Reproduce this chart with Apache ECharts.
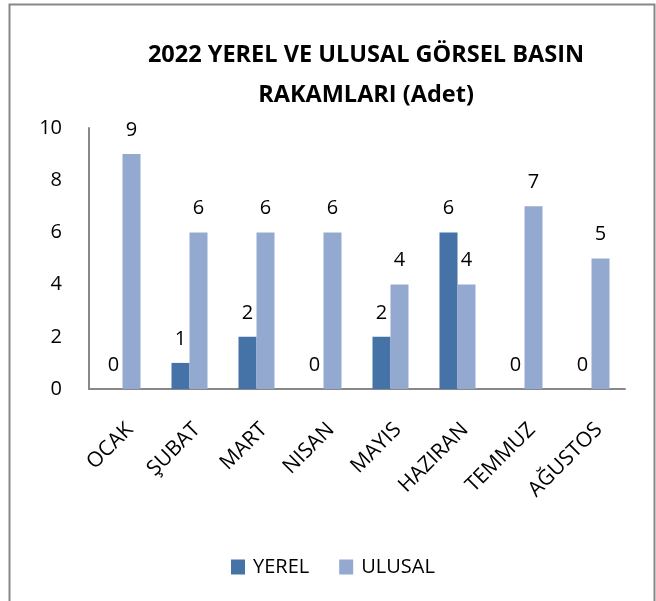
<!DOCTYPE html>
<html>
<head>
<meta charset="utf-8">
<script src="https://cdn.jsdelivr.net/npm/echarts@6/dist/echarts.min.js"></script>
<style>
  html, body { margin: 0; padding: 0; background: #fff; }
  #chart { width: 656px; height: 601px; }
</style>
</head>
<body>
<div id="chart"></div>
<script>
// aylar
var months = ['OCAK', 'ŞUBAT', 'MART', 'NISAN', 'MAYIS', 'HAZIRAN', 'TEMMUZ', 'AĞUSTOS'];
// yerel basin
var yerel = [0, 1, 2, 0, 2, 6, 0, 0];
// ulusal basin
var ulusal = [9, 6, 6, 6, 4, 4, 7, 5];
var yTicks = [0, 2, 4, 6, 8, 10];

var font = '"Open Sans", Lato, sans-serif';
var myChart = echarts.init(document.getElementById('chart'));
myChart.setOption({
  animation: false,
  textStyle: { fontFamily: font },
  graphic: [{
    type: 'rect',
    shape: { x: 9.5, y: 4.5, width: 645, height: 620 },
    style: { fill: 'none', stroke: '#888', lineWidth: 2 }
  }],
  title: {
    text: '2022 YEREL VE ULUSAL GÖRSEL BASIN\nRAKAMLARI (Adet)',
    left: 361,
    textAlign: 'center',
    top: 30,
    textStyle: { fontFamily: font, fontSize: 23.5, fontWeight: 'bold', color: '#000', lineHeight: 40 }
  },
  legend: {
    left: 231,
    top: 557,
    padding: 0,
    itemWidth: 14,
    itemHeight: 15,
    itemGap: 30,
    icon: 'rect',
    textStyle: { fontFamily: font, fontSize: 20, color: '#000', padding: [0, 0, 0, 3] },
    data: ['YEREL', 'ULUSAL']
  },
  grid: { left: 89, right: 31, top: 128, bottom: 212, containLabel: false },
  xAxis: {
    type: 'category',
    data: months,
    axisLine: { lineStyle: { color: '#888', width: 2 } },
    axisTick: { show: false },
    axisLabel: { rotate: 45, fontSize: 21, color: '#000', margin: 30, interval: 0, verticalAlign: 'top' }
  },
  yAxis: {
    type: 'value',
    min: yTicks[0],
    max: yTicks[yTicks.length - 1],
    interval: 2,
    axisLine: { show: true, lineStyle: { color: '#888', width: 2 } },
    axisTick: { show: false },
    splitLine: { show: false },
    axisLabel: { fontSize: 20, color: '#000', margin: 27 }
  },
  series: [
    {
      name: 'YEREL',
      type: 'bar',
      data: yerel,
      barWidth: 18,
      barGap: '0%',
      itemStyle: { color: '#4572A7' },
      label: { show: true, position: 'top', distance: 14, fontSize: 20, color: '#000' }
    },
    {
      name: 'ULUSAL',
      type: 'bar',
      data: ulusal,
      barWidth: 18,
      itemStyle: { color: '#93A9CF' },
      label: { show: true, position: 'top', distance: 14, fontSize: 20, color: '#000' }
    }
  ]
});
</script>
</body>
</html>
